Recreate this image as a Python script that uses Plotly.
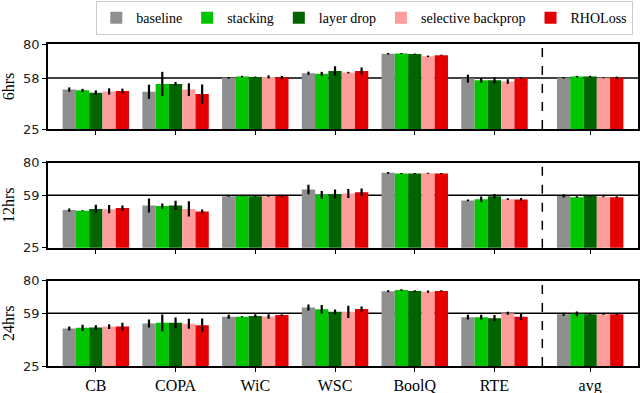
import plotly.graph_objects as go
from plotly.subplots import make_subplots

tasks = ['CB', 'COPA', 'WiC', 'WSC', 'BoolQ', 'RTE', 'avg']
task_pos = [0, 1, 2, 3, 4, 5, 6.2]
methods = ['baseline', 'stacking', 'layer drop', 'selective backprop', 'RHOLoss']
colors = ['#8f8f8f', '#00c400', '#006400', '#ff9c9c', '#e40000']
budgets = ['6hrs', '12hrs', '24hrs']
ref_lines = [58, 59, 59]

# accuracy per method (rows) and task (columns)
acc_6hrs = [
    [50.5, 49.1, 58.1, 61.1, 73.7, 57.6, 58.1],
    [50.0, 54.2, 58.9, 60.7, 73.9, 56.5, 58.9],
    [48.5, 54.2, 58.7, 62.6, 73.5, 56.5, 58.9],
    [49.3, 50.5, 58.7, 61.5, 72.0, 55.7, 58.1],
    [49.6, 47.6, 58.3, 62.6, 72.8, 57.8, 58.1],
]
err_6hrs = [
    [1.4, 4.6, 0.5, 1.0, 0.5, 2.6, 0.5],
    [1.0, 7.8, 0.5, 1.3, 0.3, 1.5, 0.5],
    [1.5, 1.2, 0.3, 3.0, 0.3, 2.0, 0.5],
    [2.0, 4.1, 1.0, 0.5, 0.5, 1.5, 0.3],
    [1.5, 6.2, 1.0, 2.2, 0.3, 0.5, 0.8],
]
acc_12hrs = [
    [49.4, 52.4, 58.4, 62.7, 73.5, 55.7, 58.6],
    [49.0, 52.0, 58.6, 59.3, 73.1, 56.5, 57.8],
    [50.2, 52.4, 58.4, 59.9, 73.1, 58.4, 58.6],
    [50.0, 50.2, 58.4, 60.2, 73.3, 56.5, 58.0],
    [50.7, 48.5, 58.6, 61.0, 73.1, 56.3, 57.8],
]
err_12hrs = [
    [1.0, 4.5, 0.3, 3.1, 0.5, 0.5, 1.0],
    [0.3, 1.7, 0.3, 2.5, 0.3, 1.7, 0.5],
    [2.7, 3.0, 0.3, 2.8, 0.3, 1.5, 0.5],
    [2.7, 4.9, 0.3, 2.9, 0.3, 0.5, 0.3],
    [1.7, 1.3, 0.8, 2.4, 0.3, 1.0, 0.5],
]
acc_24hrs = [
    [49.2, 52.4, 56.7, 62.7, 73.2, 56.5, 58.4],
    [49.6, 52.8, 56.7, 61.6, 74.0, 56.5, 58.6],
    [49.8, 52.8, 57.3, 59.9, 73.4, 55.8, 58.4],
    [50.4, 52.2, 56.9, 59.9, 72.9, 59.0, 58.4],
    [50.4, 51.3, 57.8, 61.8, 73.4, 56.7, 58.4],
]
err_24hrs = [
    [1.3, 2.6, 1.3, 2.0, 0.7, 1.5, 1.0],
    [2.0, 5.4, 0.3, 2.7, 0.5, 1.5, 1.5],
    [1.5, 3.5, 1.0, 1.5, 0.5, 2.0, 0.3],
    [1.5, 3.2, 1.5, 3.9, 0.7, 1.0, 0.3],
    [2.4, 4.3, 0.5, 1.6, 0.5, 2.0, 0.5],
]

accs = [acc_6hrs, acc_12hrs, acc_24hrs]
errs = [err_6hrs, err_12hrs, err_24hrs]

SERIF = 'Liberation Serif, DejaVu Serif, serif'

fig = make_subplots(rows=3, cols=1, shared_xaxes=True)
domains = [[0.736, 1.0], [0.367, 0.631], [0.0, 0.265]]

for r in range(3):
    for m, name in enumerate(methods):
        fig.add_trace(go.Bar(
            x=task_pos, y=accs[r][m], name=name,
            marker=dict(color=colors[m], line=dict(width=0)),
            error_y=dict(type='data', array=errs[r][m], color='black',
                         thickness=2.2, width=0),
            offsetgroup=str(m), showlegend=(r == 0), legendgroup=name,
        ), row=r + 1, col=1)

    ax = '' if r == 0 else str(r + 1)
    fig.update_yaxes(range=[25, 80], tickvals=[25, ref_lines[r], 80],
                     domain=domains[r], showgrid=False, zeroline=False,
                     showline=True, linecolor='black', linewidth=1.5, mirror=True,
                     ticks='outside', ticklen=4, tickcolor='black',
                     tickfont=dict(family='DejaVu Sans', size=13, color='#222'),
                     title=dict(text=budgets[r], font=dict(family=SERIF, size=16, color='black'),
                                standoff=4),
                     row=r + 1, col=1)
    fig.update_xaxes(range=[-0.6, 6.8], tickvals=task_pos, ticktext=tasks,
                     showticklabels=(r == 2), showgrid=False, zeroline=False,
                     showline=True, linecolor='black', linewidth=1.5, mirror=True,
                     ticks='outside', ticklen=4, tickcolor='black',
                     tickfont=dict(family=SERIF, size=16, color='black'),
                     row=r + 1, col=1)

    fig.add_shape(type='line', xref=f'x{ax} domain', yref=f'y{ax}',
                  x0=0, x1=1, y0=ref_lines[r], y1=ref_lines[r],
                  line=dict(color='black', width=1.5), layer='below')
    fig.add_shape(type='line', xref=f'x{ax}', yref=f'y{ax} domain',
                  x0=(task_pos[5] + task_pos[6]) / 2, x1=(task_pos[5] + task_pos[6]) / 2,
                  y0=0, y1=1, line=dict(color='black', width=1.5, dash='dash'))

fig.update_layout(
    width=640, height=393,
    barmode='group', bargap=1 / 6, bargroupgap=0,
    plot_bgcolor='white', paper_bgcolor='white',
    margin=dict(l=48, r=2, t=44, b=27, autoexpand=False),
    legend=dict(orientation='h', x=0.992, xanchor='right', y=0.997, yref='container',
                yanchor='top', font=dict(family=SERIF, size=14, color='black'),
                bordercolor='#cccccc', borderwidth=1, bgcolor='white',
                itemwidth=30, tracegroupgap=0),
)

fig.write_html("out.html", config={'displayModeBar': False},
               post_script="document.body.style.margin='0';")
